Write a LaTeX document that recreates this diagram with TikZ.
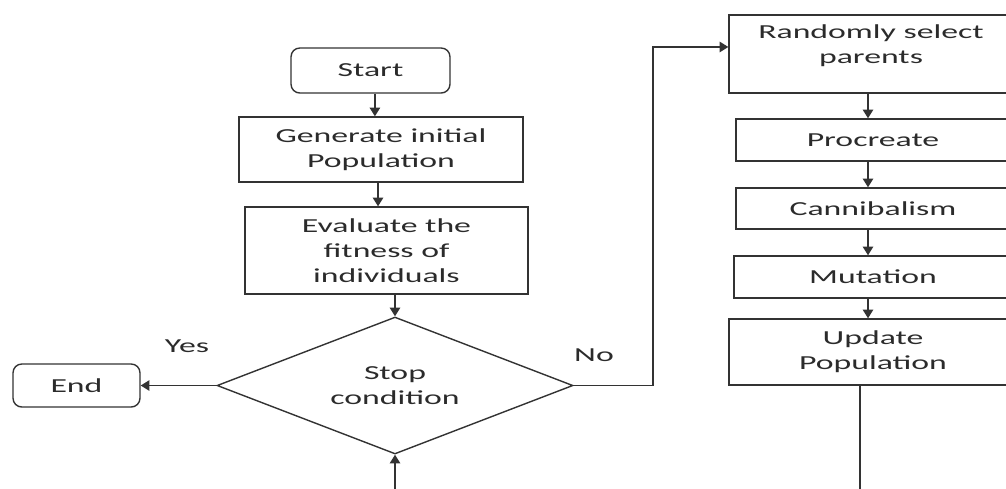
\documentclass[tikz,border=0pt]{standalone}
\usepackage{fontspec}
\setmainfont{Carlito}[FakeStretch=1.7]
\usetikzlibrary{arrows.meta,shapes.geometric}
\definecolor{flowline}{HTML}{333333}
\definecolor{flowtext}{HTML}{2B2B2B}

\begin{document}
\begin{tikzpicture}[x=0.02cm,y=-0.02cm,
  every node/.style={font=\fontsize{11.3}{14.2}\selectfont,text=flowtext},
  box/.style={draw=flowline,line width=0.8pt,rectangle,align=center,inner sep=0pt},
  term/.style={box,rounded corners=5pt},
  decide/.style={draw=flowline,line width=0.8pt,diamond,aspect=2.6,align=center,inner sep=0pt},
  arr/.style={draw=flowline,line width=0.8pt,-{Triangle[length=5pt,width=6pt]}}]
  \useasboundingbox (0,0) rectangle (1006,488);
  \clip (0,0) rectangle (1006,488);
  % left column
  \node[term,minimum width=3.18cm,minimum height=0.9cm] (start) at (370.5,70.5) {Start};
  \node[box,minimum width=5.68cm,minimum height=1.3cm] (gen) at (381,149.5) {Generate initial\\Population};
  \node[box,minimum width=5.66cm,minimum height=1.74cm] (eval) at (386.5,250.5) {Evaluate the\\fitness of\\individuals};
  \node[decide,minimum width=7.12cm,minimum height=2.74cm] (stop) at (395,385.5) {Stop\\condition};
  \node[term,minimum width=2.54cm,minimum height=0.86cm] (end) at (76.5,385.5) {End};
  \node (yes) at (187,346) {Yes};
  \node (no) at (594,355) {No};
  % right column
  \node[box,minimum width=5.76cm,minimum height=1.56cm] (sel) at (873,54) {};
  \node[align=center] (seltext) at (871,45.5) {Randomly select\\parents};
  \node[box,minimum width=5.48cm,minimum height=0.84cm] (proc) at (873,140) {Procreate};
  \node[box,minimum width=5.48cm,minimum height=0.82cm] (can) at (873,208.5) {Cannibalism};
  \node[box,minimum width=5.56cm,minimum height=0.84cm] (mut) at (873,277) {Mutation};
  \node[box,minimum width=5.76cm,minimum height=1.32cm] (upd) at (873,352) {Update\\Population};
  \coordinate (colx) at (868,0);
  \coordinate (turn) at (653,0);
  \coordinate (loop) at (860,530);
  % connectors
  \draw[arr] ([xshift=2.5pt]start.south) -- ([xshift=2.5pt]start.south |- gen.north);
  \draw[arr] ([xshift=-1.7pt]gen.south) -- ([xshift=-1.7pt]gen.south |- eval.north);
  \draw[arr] (stop.north |- eval.south) -- (stop.north);
  \draw[arr] (stop.west) -- (end.east);
  \draw[arr] (stop.east) -- (stop.east -| turn) |- ([yshift=4pt]sel.west);
  \draw[arr] (sel.south -| colx) -- (proc.north -| colx);
  \draw[arr] (proc.south -| colx) -- (can.north -| colx);
  \draw[arr] (can.south -| colx) -- (mut.north -| colx);
  \draw[arr] (mut.south -| colx) -- (upd.north -| colx);
  \draw[arr] (upd.south -| loop) -- (loop) -| (stop.south);
\end{tikzpicture}
\end{document}
